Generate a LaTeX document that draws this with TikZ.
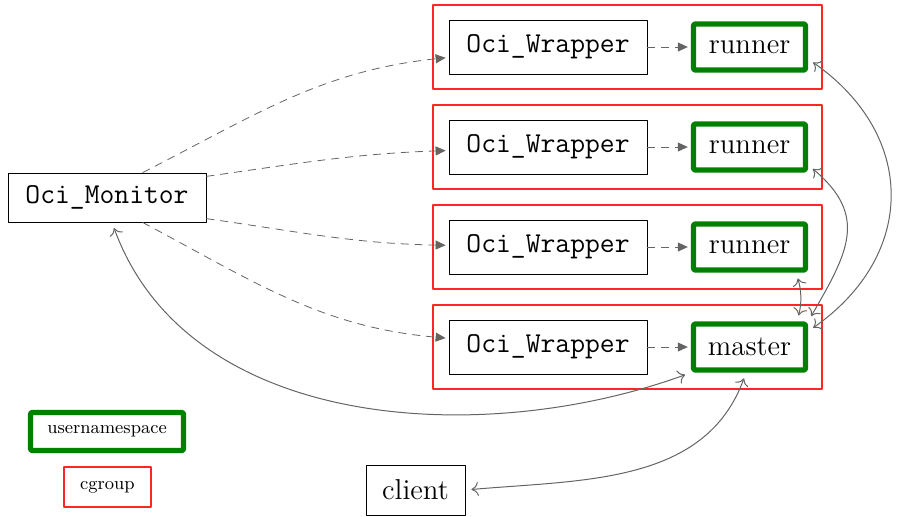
\documentclass[tikz,border=0pt]{standalone}
\usetikzlibrary{arrows.meta}
\definecolor{nsgreen}{RGB}{0,128,0}
\definecolor{linkgray}{RGB}{100,100,100}

\begin{document}
\begin{tikzpicture}[x=0.5pt, y=0.5pt, line join=round,
        cgroup/.style={draw=red!85!white, line width=0.55pt, minimum width=194.5pt, minimum height=42pt, inner sep=0pt},
        proc/.style={draw, font=\Large\ttfamily, minimum width=99pt, minimum height=27pt, inner sep=0pt},
        userns/.style={draw=nsgreen, line width=2.7pt, rounded corners=1pt, font=\Large, minimum width=56pt, minimum height=23pt, inner sep=0pt},
        spawn/.style={draw=linkgray, dash pattern=on 4pt off 3pt, shorten >=1.5pt, -{Triangle[length=5pt,width=4.5pt]}},
        link/.style={draw=linkgray, line width=0.5pt, {To[length=3.5pt,width=7pt]}-{To[length=3.5pt,width=7pt]}, shorten <=3pt, shorten >=3pt}]

    \useasboundingbox (0,0) rectangle (897,516);

    % cgroups with their wrapper
    \foreach \i/\y in {1/469, 2/369, 3/269, 4/169} {
        \node[cgroup] (cg\i) at (627.5,\y) {};
        \node[proc] (w\i) at (548,\y) {Oci\_Wrapper};
    }

    % user namespaces
    \node[userns] (r1) at (749.5,469) {runner};
    \node[userns] (r2) at (749.5,369) {runner};
    \node[userns] (r3) at (749.5,269) {runner};
    \node[userns] (master) at (749.5,169) {master};

    \node[draw, font=\Large\ttfamily, minimum width=99pt, minimum height=24.5pt, inner sep=0pt] (mon) at (107,318.5) {Oci\_Monitor};
    \node[draw, font=\Large, minimum width=49.5pt, minimum height=25pt, inner sep=0pt] (client) at (415.5,26) {client};

    % legend
    \node[userns, font=\small, minimum width=76.5pt, minimum height=19pt] (nslegend) at (107,84.5) {usernamespace};
    \node[cgroup, font=\small, minimum width=43.5pt, minimum height=20pt] (cglegend) at (107.5,29) {cgroup};

    % monitor starts the wrappers
    \draw[spawn] (mon.35) to[out=27, in=186] (w1);
    \draw[spawn] (mon.12) to[out=8, in=182] (w2);
    \draw[spawn] (mon.-12) to[out=-8, in=179] (w3);
    \draw[spawn] (mon.-35) to[out=-28, in=175] (w4);

    \draw[spawn] (w1.east) -- (r1.west);
    \draw[spawn] (w2.east) -- (r2.west);
    \draw[spawn] (w3.east) -- (r3.west);
    \draw[spawn] (w4.east) -- (master.west);

    % talking to master
    \draw[link] (master.south west) to[out=200, in=-70, looseness=0.95] ([xshift=2.5pt]mon.south);
    \draw[link] ([xshift=-1.75pt]master.south) to[out=-110, in=5] (client.east);
    \draw[link] ([xshift=-6pt]r3.south east) to[bend left=15] ([xshift=-5.5pt]master.north east);
    \draw[link] ([yshift=-9pt]r2.east) to[out=-40, in=60, looseness=1.3] (master.north east);
    \draw[link] ([yshift=-6pt]r1.east) to[out=-35, in=35, looseness=1.25] ([yshift=-5pt]master.north east);

\end{tikzpicture}
\end{document}
